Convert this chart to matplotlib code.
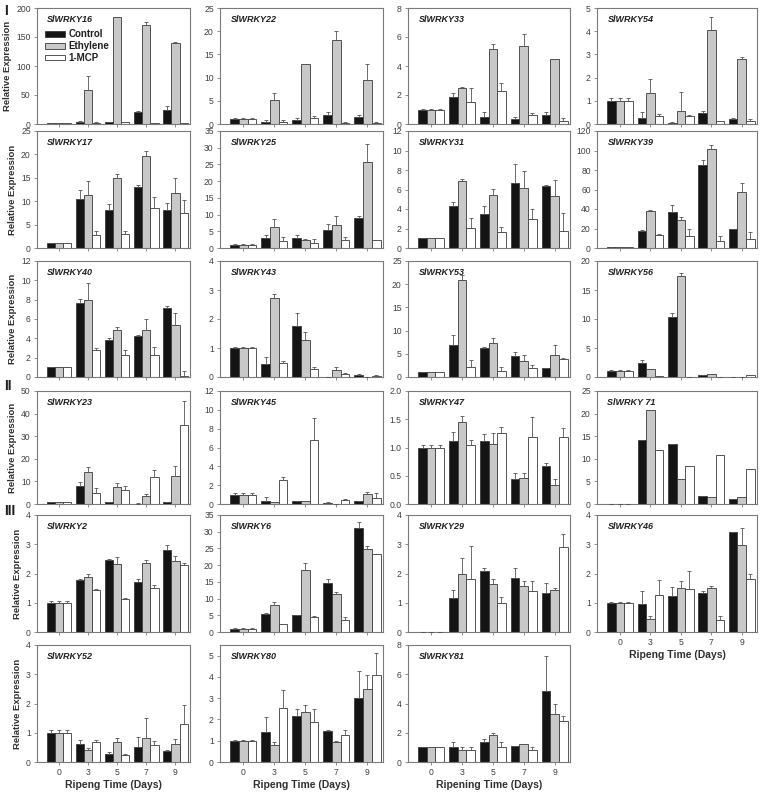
import matplotlib
matplotlib.use("Agg")
import matplotlib.pyplot as plt
from matplotlib.patches import Patch
import numpy as np

plt.rcParams['font.family'] = ['Liberation Sans', 'DejaVu Sans']

days = ['0', '3', '5', '7', '9']
treatments = ['Control', 'Ethylene', '1-MCP']

# ---- data: rows = Control, Ethylene, 1-MCP ; columns = days 0,3,5,7,9 ----
wrky16_mean = [[1, 3, 3, 21, 25], [1, 58, 184, 171, 140], [1, 2, 3, 1.5, 1.5]]
wrky16_err = [[0.5, 2, 1, 1.5, 6], [0.5, 24, 0, 5, 2], [0.3, 1, 0.5, 0.5, 0.3]]
wrky22_mean = [[1.0, 0.5, 0.8, 2.0, 1.6], [1.0, 5.1, 13.0, 18.1, 9.4], [1.0, 0.5, 1.4, 0.3, 0.3]]
wrky22_err = [[0.2, 0.3, 0.4, 0.5, 0.4], [0.2, 1.6, 0, 2.0, 3.6], [0.2, 0.4, 0.4, 0.1, 0.2]]
wrky33_mean = [[1.0, 1.85, 0.5, 0.35, 0.65], [1.0, 2.45, 5.15, 5.4, 4.45], [1.0, 1.55, 2.25, 0.6, 0.2]]
wrky33_err = [[0.05, 0.3, 0.3, 0.15, 0.15], [0.05, 0.1, 0.35, 0.8, 0.05], [0.05, 0.95, 0.55, 0.15, 0.2]]
wrky54_mean = [[1.0, 0.25, 0.06, 0.48, 0.2], [1.0, 1.35, 0.55, 4.05, 2.82], [1.0, 0.35, 0.35, 0.12, 0.13]]
wrky54_err = [[0.12, 0.25, 0.02, 0.1, 0.06], [0.1, 0.58, 0.85, 0.57, 0.08], [0.1, 0.1, 0.05, 0.03, 0.1]]

wrky17_mean = [[1.0, 10.5, 8.2, 13.0, 8.1], [1.0, 11.4, 15.0, 19.7, 11.8], [1.0, 2.8, 3.0, 8.6, 7.5]]
wrky17_err = [[0.1, 2.0, 1.2, 0.5, 1.5], [0.1, 3.0, 0.9, 1.1, 3.2], [0.1, 0.9, 0.7, 2.2, 2.7]]
wrky25_mean = [[1.0, 3.0, 3.0, 5.5, 9.0], [1.0, 6.4, 2.4, 7.0, 25.8], [1.0, 2.0, 1.6, 2.3, 2.5]]
wrky25_err = [[0.1, 1.0, 1.0, 1.7, 0.5], [0.1, 2.3, 0.3, 2.5, 5.3], [0.1, 1.2, 1.0, 1.0, 0]]
wrky31_mean = [[1.0, 4.35, 3.45, 6.65, 6.35], [1.0, 6.85, 5.45, 6.2, 5.3], [1.0, 2.05, 1.6, 2.95, 1.7]]
wrky31_err = [[0.03, 0.35, 0.85, 1.95, 0.1], [0.03, 0.2, 0.65, 1.7, 1.65], [0.03, 1.05, 0.55, 1.05, 1.85]]
wrky39_mean = [[1, 17, 36.5, 85.5, 19.5], [1, 37.5, 28.5, 101.5, 57], [1, 13, 12, 7.5, 9]]
wrky39_err = [[0.3, 1, 8, 4.5, 0.5], [0.3, 1, 3, 4, 9.5], [0.3, 1, 7, 4.5, 7]]

wrky40_mean = [[1.0, 7.7, 3.8, 4.25, 7.1], [1.0, 8.0, 4.9, 4.85, 5.4], [1.0, 2.8, 2.25, 2.25, 0.1]]
wrky40_err = [[0.05, 0.35, 0.2, 0.05, 0.25], [0.05, 1.7, 0.25, 1.15, 1.2], [0.05, 0.2, 0.5, 0.85, 0.55]]
wrky43_mean = [[1.0, 0.45, 1.75, 0.0, 0.08], [1.0, 2.72, 1.28, 0.24, 0.0], [1.0, 0.47, 0.27, 0.1, 0.04]]
wrky43_err = [[0.05, 0.25, 0.47, 0, 0.01], [0.05, 0.15, 0.28, 0.1, 0], [0.05, 0.08, 0.08, 0.05, 0.02]]
wrky53_mean = [[1.0, 6.9, 6.3, 4.5, 1.85], [1.0, 21.0, 7.3, 3.5, 4.8], [1.0, 2.2, 1.2, 1.9, 3.9]]
wrky53_err = [[0.1, 2.2, 0.1, 0.9, 0], [0.1, 1.0, 1.2, 1.3, 2.1], [0.1, 1.5, 0.9, 0.7, 0.2]]
wrky56_mean = [[1.0, 2.45, 10.4, 0.3, 0.0], [1.0, 1.35, 17.5, 0.45, 0.0], [1.0, 0.15, 0.0, 0.0, 0.3]]
wrky56_err = [[0.15, 0.55, 0.6, 0.05, 0], [0.15, 0, 0.5, 0.05, 0], [0.2, 0.05, 0, 0, 0.05]]

wrky23_mean = [[1.0, 8.1, 0.7, 0.2, 0.8], [1.0, 14.1, 7.6, 3.4, 12.2], [1.0, 4.8, 6.0, 11.9, 35.0]]
wrky23_err = [[0.1, 1.6, 0.2, 0.1, 0.2], [0.1, 2.1, 1.6, 0.9, 4.8], [0.1, 2.2, 2.0, 3.3, 10.6]]
wrky45_mean = [[1.0, 0.35, 0.3, 0.12, 0.3], [0.95, 0.2, 0.3, 0.05, 1.1], [0.95, 2.6, 6.75, 0.4, 0.65]]
wrky45_err = [[0.15, 0.4, 0.05, 0.05, 0.05], [0.2, 0.05, 0.05, 0, 0.15], [0.2, 0.25, 2.35, 0.15, 0.55]]
wrky47_mean = [[1.0, 1.11, 1.11, 0.44, 0.67], [1.0, 1.45, 1.07, 0.46, 0.33], [1.0, 1.05, 1.25, 1.18, 1.18]]
wrky47_err = [[0.05, 0.16, 0.13, 0.11, 0.05], [0.05, 0.1, 0.19, 0.09, 0.12], [0.05, 0.08, 0.12, 0.36, 0.17]]
wrky71_mean = [[0, 14.2, 13.3, 1.8, 1.0], [0, 20.8, 5.5, 1.5, 1.5], [0, 12.0, 8.3, 10.8, 7.8]]
wrky71_err = [[0, 0, 0, 0, 0], [0, 0, 0, 0, 0], [0, 0, 0, 0, 0]]

wrky2_mean = [[1.0, 1.78, 2.45, 1.7, 2.8], [1.0, 1.87, 2.33, 2.37, 2.42], [1.0, 1.45, 1.12, 1.5, 2.3]]
wrky2_err = [[0.05, 0.03, 0.03, 0.12, 0.18], [0.05, 0.1, 0.25, 0.1, 0.17], [0.05, 0.03, 0.05, 0.12, 0.07]]
wrky6_mean = [[1.0, 5.4, 5.0, 14.8, 31.0], [1.0, 8.2, 18.6, 11.5, 24.8], [1.0, 2.3, 4.4, 3.6, 23.4]]
wrky6_err = [[0.1, 0.3, 0.2, 1.0, 2.0], [0.1, 0.7, 1.9, 0.6, 1.0], [0.1, 0.2, 0.3, 1.0, 0]]
wrky29_mean = [[0, 1.17, 2.08, 1.83, 1.33], [0, 1.97, 1.65, 1.57, 1.42], [0, 1.8, 1.0, 1.4, 2.9]]
wrky29_err = [[0, 0.25, 0.12, 0.37, 0.35], [0, 0.55, 0.15, 0.17, 0.08], [0, 1.15, 0.2, 0.33, 0.45]]
wrky46_mean = [[1.0, 0.97, 1.22, 1.33, 3.43], [1.0, 0.45, 1.52, 1.52, 2.98], [1.0, 1.28, 1.48, 0.42, 1.8]]
wrky46_err = [[0.03, 0.43, 0.32, 0.06, 0], [0.03, 0.1, 0.23, 0.06, 0.57], [0.03, 0.5, 0.6, 0.12, 0.17]]

wrky52_mean = [[1.0, 0.6, 0.28, 0.5, 0.38], [1.0, 0.4, 0.68, 0.82, 0.6], [1.0, 0.68, 0.23, 0.58, 1.3]]
wrky52_err = [[0.1, 0.15, 0.05, 0.35, 0.03], [0.1, 0.07, 0.13, 0.68, 0.2], [0.1, 0.07, 0.03, 0.13, 0.65]]
wrky80_mean = [[1.0, 1.43, 2.17, 1.47, 3.02], [1.0, 0.78, 2.35, 0.92, 3.42], [1.0, 2.55, 1.9, 1.28, 4.08]]
wrky80_err = [[0.05, 0.7, 0.33, 0.03, 1.25], [0.05, 0.15, 0.32, 0.05, 0.67], [0.05, 0.85, 0.57, 0.23, 1.05]]
wrky81_mean = [[1.0, 1.05, 1.35, 1.1, 4.85], [1.0, 0.85, 1.88, 1.2, 3.25], [1.0, 0.8, 1.05, 0.8, 2.8]]
wrky81_err = [[0.03, 0.35, 0.25, 0.02, 2.4], [0.03, 0.2, 0.07, 0.05, 0.75], [0.03, 0.25, 0.3, 0.2, 0.35]]

# ---- layout (pixels) ----
W, H = 760, 795
col_x = [(37, 190), (220, 383), (408, 570), (597, 757)]
row_y = [(8, 124), (131, 248), (261, 377), (391, 504), (515, 632), (645, 762)]

# (label, mean, err, ymax, ystep, row, col, tick labels, xlabel, fmt)
panels = [
    ('SlWRKY16', wrky16_mean, wrky16_err, 200, 50, 0, 0, False, None, '%d'),
    ('SlWRKY22', wrky22_mean, wrky22_err, 25, 5, 0, 1, False, None, '%d'),
    ('SlWRKY33', wrky33_mean, wrky33_err, 8, 2, 0, 2, False, None, '%d'),
    ('SlWRKY54', wrky54_mean, wrky54_err, 5, 1, 0, 3, False, None, '%d'),
    ('SlWRKY17', wrky17_mean, wrky17_err, 25, 5, 1, 0, False, None, '%d'),
    ('SlWRKY25', wrky25_mean, wrky25_err, 35, 5, 1, 1, False, None, '%d'),
    ('SlWRKY31', wrky31_mean, wrky31_err, 12, 2, 1, 2, False, None, '%d'),
    ('SlWRKY39', wrky39_mean, wrky39_err, 120, 20, 1, 3, False, None, '%d'),
    ('SlWRKY40', wrky40_mean, wrky40_err, 12, 2, 2, 0, False, None, '%d'),
    ('SlWRKY43', wrky43_mean, wrky43_err, 4, 1, 2, 1, False, None, '%d'),
    ('SlWRKY53', wrky53_mean, wrky53_err, 25, 5, 2, 2, False, None, '%d'),
    ('SlWRKY56', wrky56_mean, wrky56_err, 20, 5, 2, 3, False, None, '%d'),
    ('SlWRKY23', wrky23_mean, wrky23_err, 50, 10, 3, 0, False, None, '%d'),
    ('SlWRKY45', wrky45_mean, wrky45_err, 12, 2, 3, 1, False, None, '%d'),
    ('SlWRKY47', wrky47_mean, wrky47_err, 2.0, 0.5, 3, 2, False, None, '%.1f'),
    ('SlWRKY 71', wrky71_mean, wrky71_err, 25, 5, 3, 3, False, None, '%d'),
    ('SlWRKY2', wrky2_mean, wrky2_err, 4, 1, 4, 0, False, None, '%d'),
    ('SlWRKY6', wrky6_mean, wrky6_err, 35, 5, 4, 1, False, None, '%d'),
    ('SlWRKY29', wrky29_mean, wrky29_err, 4, 1, 4, 2, False, None, '%d'),
    ('SlWRKY46', wrky46_mean, wrky46_err, 4, 1, 4, 3, True, 'Ripeng Time (Days)', '%d'),
    ('SlWRKY52', wrky52_mean, wrky52_err, 4, 1, 5, 0, True, 'Ripeng Time (Days)', '%d'),
    ('SlWRKY80', wrky80_mean, wrky80_err, 5.5, 1, 5, 1, True, 'Ripeng Time (Days)', '%d'),
    ('SlWRKY81', wrky81_mean, wrky81_err, 8, 2, 5, 2, True, 'Ripening Time (Days)', '%d'),
]

colors = ['#141414', '#c8c8c8', '#ffffff']
edge = '#3a3a3a'
spine_c = '#7a7a7a'
txt_c = '#404040'

fig = plt.figure(figsize=(W / 100, H / 100), dpi=100)
bw = 0.28
x = np.arange(len(days))

for (lab, mean, err, ymax, ystep, r, c, showx, xlab, fmt) in panels:
    x0, x1 = col_x[c]
    y0, y1 = row_y[r]
    ax = fig.add_axes([x0 / W, 1 - y1 / H, (x1 - x0) / W, (y1 - y0) / H])
    for k in range(3):
        m = np.array(mean[k], float)
        e = np.array(err[k], float)
        pos = x + (k - 1) * bw
        ax.bar(pos, m, bw, color=colors[k], edgecolor=edge, linewidth=0.6, zorder=2)
        ax.errorbar(pos, m, yerr=[np.zeros_like(e), e], fmt='none', ecolor='#555555',
                    elinewidth=0.6, capsize=1.6, capthick=0.6, zorder=3)
    ax.set_xlim(-0.75, 4.5)
    ax.set_ylim(0, ymax)
    yt = np.arange(0, ymax + 1e-9, ystep)
    ax.set_yticks(yt)
    ax.set_yticklabels([fmt % v for v in yt])
    ax.set_xticks(x)
    if showx:
        ax.set_xticklabels(days)
    else:
        ax.set_xticklabels([])
    if xlab:
        ax.set_xlabel(xlab, fontsize=7.5, fontweight='bold', color='#303030', labelpad=2)
    ax.tick_params(axis='both', direction='out', length=2.5, width=0.6, colors=spine_c,
                   labelsize=6.2, labelcolor=txt_c, pad=2)
    for s in ax.spines.values():
        s.set_color(spine_c)
        s.set_linewidth(0.8)
    ax.text(0.065, 0.9, lab, transform=ax.transAxes, fontsize=6.5, fontweight='bold',
            fontstyle='italic', color='#202020', va='center', ha='left')
    if c == 0:
        ax.set_ylabel('Relative Expression', fontsize=6.8, fontweight='bold', color='#303030',
                      labelpad=3)
    if lab == 'SlWRKY16':
        handles = [Patch(facecolor=colors[k], edgecolor=edge, linewidth=0.6) for k in range(3)]
        ax.legend(handles, treatments, loc='upper left', bbox_to_anchor=(0.03, 0.85),
                  frameon=False, prop={'weight': 'bold', 'size': 7},
                  handlelength=2.0, handleheight=0.5, handletextpad=0.4, labelspacing=0.2,
                  borderaxespad=0)
        for t in ax.get_legend().get_texts():
            t.set_color('#202020')

for txt, yp in [('I', 11), ('II', 386), ('III', 511)]:
    fig.text(4 / W, 1 - yp / H, txt, fontsize=10, fontweight='bold', color='#202020',
             va='center', ha='left')

fig.savefig('out.png', dpi=100)
